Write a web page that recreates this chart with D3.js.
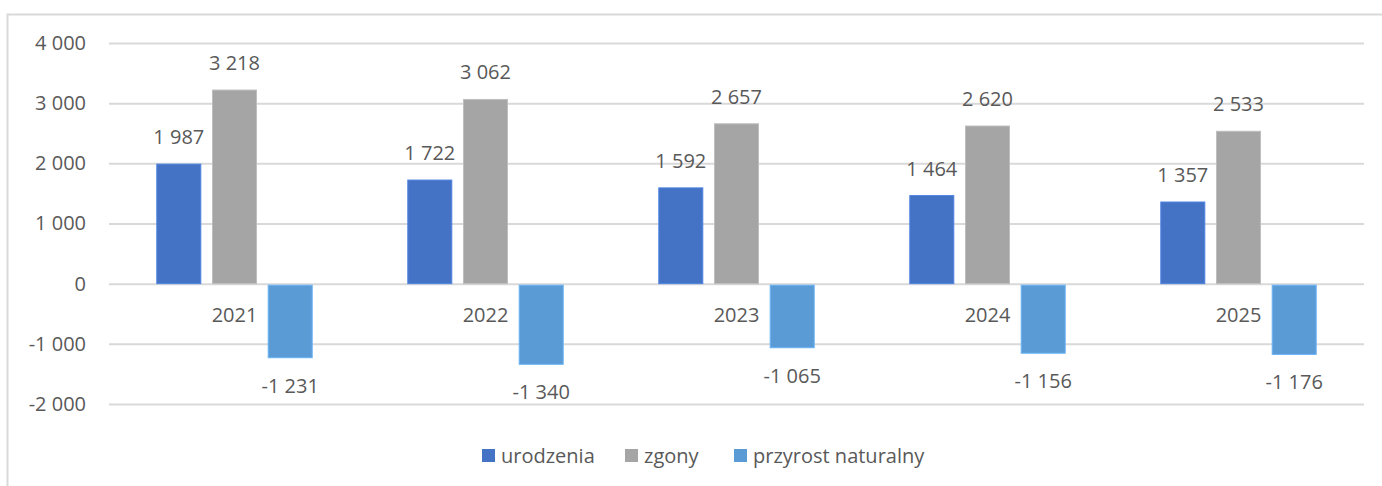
<!DOCTYPE html>
<html>
<head>
<meta charset="utf-8">
<script src="https://cdn.jsdelivr.net/npm/d3@7"></script>
<style>
  body { margin: 0; background: #fff; }
  text { font-family: "Open Sans", "Noto Sans", sans-serif; fill: #595959; }
</style>
</head>
<body>
<div id="chart"></div>
<script>
// dane wykresu
var years = ["2021", "2022", "2023", "2024", "2025"];
var seriesNames = ["urodzenia", "zgony", "przyrost naturalny"];
var urodzenia = [1987, 1722, 1592, 1464, 1357];
var zgony = [3218, 3062, 2657, 2620, 2533];
var przyrost = [-1231, -1340, -1065, -1156, -1176];
var yTicks = [-2000, -1000, 0, 1000, 2000, 3000, 4000];

var colors = ["#4472C4", "#A5A5A5", "#5B9BD5"];
var width = 1382, height = 486;
var plot = {left: 109, right: 1364, top: 43, bottom: 404};
var fontSize = "20px";

// formatowanie liczb ze spacją jako separatorem tysięcy
var fmt = function(v) {
    var s = d3.format(",")(Math.abs(v)).replace(/,/g, " ");
    return (v < 0 ? "-" : "") + s;
};

var svg = d3.select("#chart").append("svg")
    .attr("width", width)
    .attr("height", height);

// ramka wykresu (widoczna tylko z lewej i u góry)
svg.append("path")
    .attr("d", "M7.5," + height + "V14.5H" + width)
    .attr("fill", "none")
    .attr("stroke", "#d9d9d9")
    .attr("stroke-width", 2);

var y = d3.scaleLinear().domain([-2000, 4000]).range([plot.bottom, plot.top]);
var x0 = d3.scaleBand().domain(years).range([plot.left, plot.right]);
var groupW = 155.4;
var x1 = d3.scaleBand().domain(seriesNames)
    .range([(x0.bandwidth() - groupW) / 2, (x0.bandwidth() + groupW) / 2])
    .paddingInner(0.21);

// linie siatki i etykiety osi Y
var yAxis = svg.append("g")
    .attr("transform", "translate(" + plot.left + ",0)")
    .call(d3.axisLeft(y).tickValues(yTicks).tickSize(-(plot.right - plot.left)).tickPadding(23).tickFormat(fmt));
yAxis.select(".domain").remove();
yAxis.selectAll(".tick line").attr("stroke", "#d9d9d9").attr("stroke-width", 2);
yAxis.selectAll(".tick text").style("font-size", fontSize).attr("fill", "#595959");

// dane w formie tabeli do rysowania słupków
var table = [];
years.forEach(function(yr, i) {
    table.push({year: yr, series: seriesNames[0], value: urodzenia[i], color: colors[0]});
    table.push({year: yr, series: seriesNames[1], value: zgony[i], color: colors[1]});
    table.push({year: yr, series: seriesNames[2], value: przyrost[i], color: colors[2]});
});

var bars = svg.append("g").selectAll("g")
    .data(table)
    .enter().append("g")
    .attr("transform", function(d) { return "translate(" + (x0(d.year) + x1(d.series)) + ",0)"; });

bars.append("rect")
    .attr("x", 0)
    .attr("width", x1.bandwidth())
    .attr("y", function(d) { return d.value >= 0 ? y(d.value) : y(0) + 1.5; })
    .attr("height", function(d) { return Math.abs(y(d.value) - y(0)) - (d.value >= 0 ? 0 : 1.5); })
    .attr("fill", function(d) { return d.color; })
    .attr("stroke", function(d) { return d3.color(d.color).brighter(0.4); })
    .attr("stroke-width", 1);

// etykiety wartości
bars.append("text")
    .attr("x", x1.bandwidth() / 2)
    .attr("y", function(d) { return d.value >= 0 ? y(d.value) - 20 : y(d.value) + 35; })
    .attr("text-anchor", "middle")
    .style("font-size", fontSize)
    .text(function(d) { return fmt(d.value); });

// etykiety kategorii (lata) pod osią zero
svg.append("g").selectAll("text")
    .data(years)
    .enter().append("text")
    .attr("x", function(d) { return x0(d) + x0.bandwidth() / 2; })
    .attr("y", y(0) + 38)
    .attr("text-anchor", "middle")
    .style("font-size", fontSize)
    .text(function(d) { return d; });

// legenda
var legendX = [482, 625, 734];
var legend = svg.append("g").selectAll("g")
    .data(seriesNames)
    .enter().append("g")
    .attr("transform", function(d, i) { return "translate(" + legendX[i] + ",449)"; });

legend.append("rect")
    .attr("width", 13)
    .attr("height", 13)
    .attr("fill", function(d, i) { return colors[i]; });

legend.append("text")
    .attr("x", 19)
    .attr("y", 14)
    .style("font-size", fontSize)
    .text(function(d) { return d; });
</script>
</body>
</html>
